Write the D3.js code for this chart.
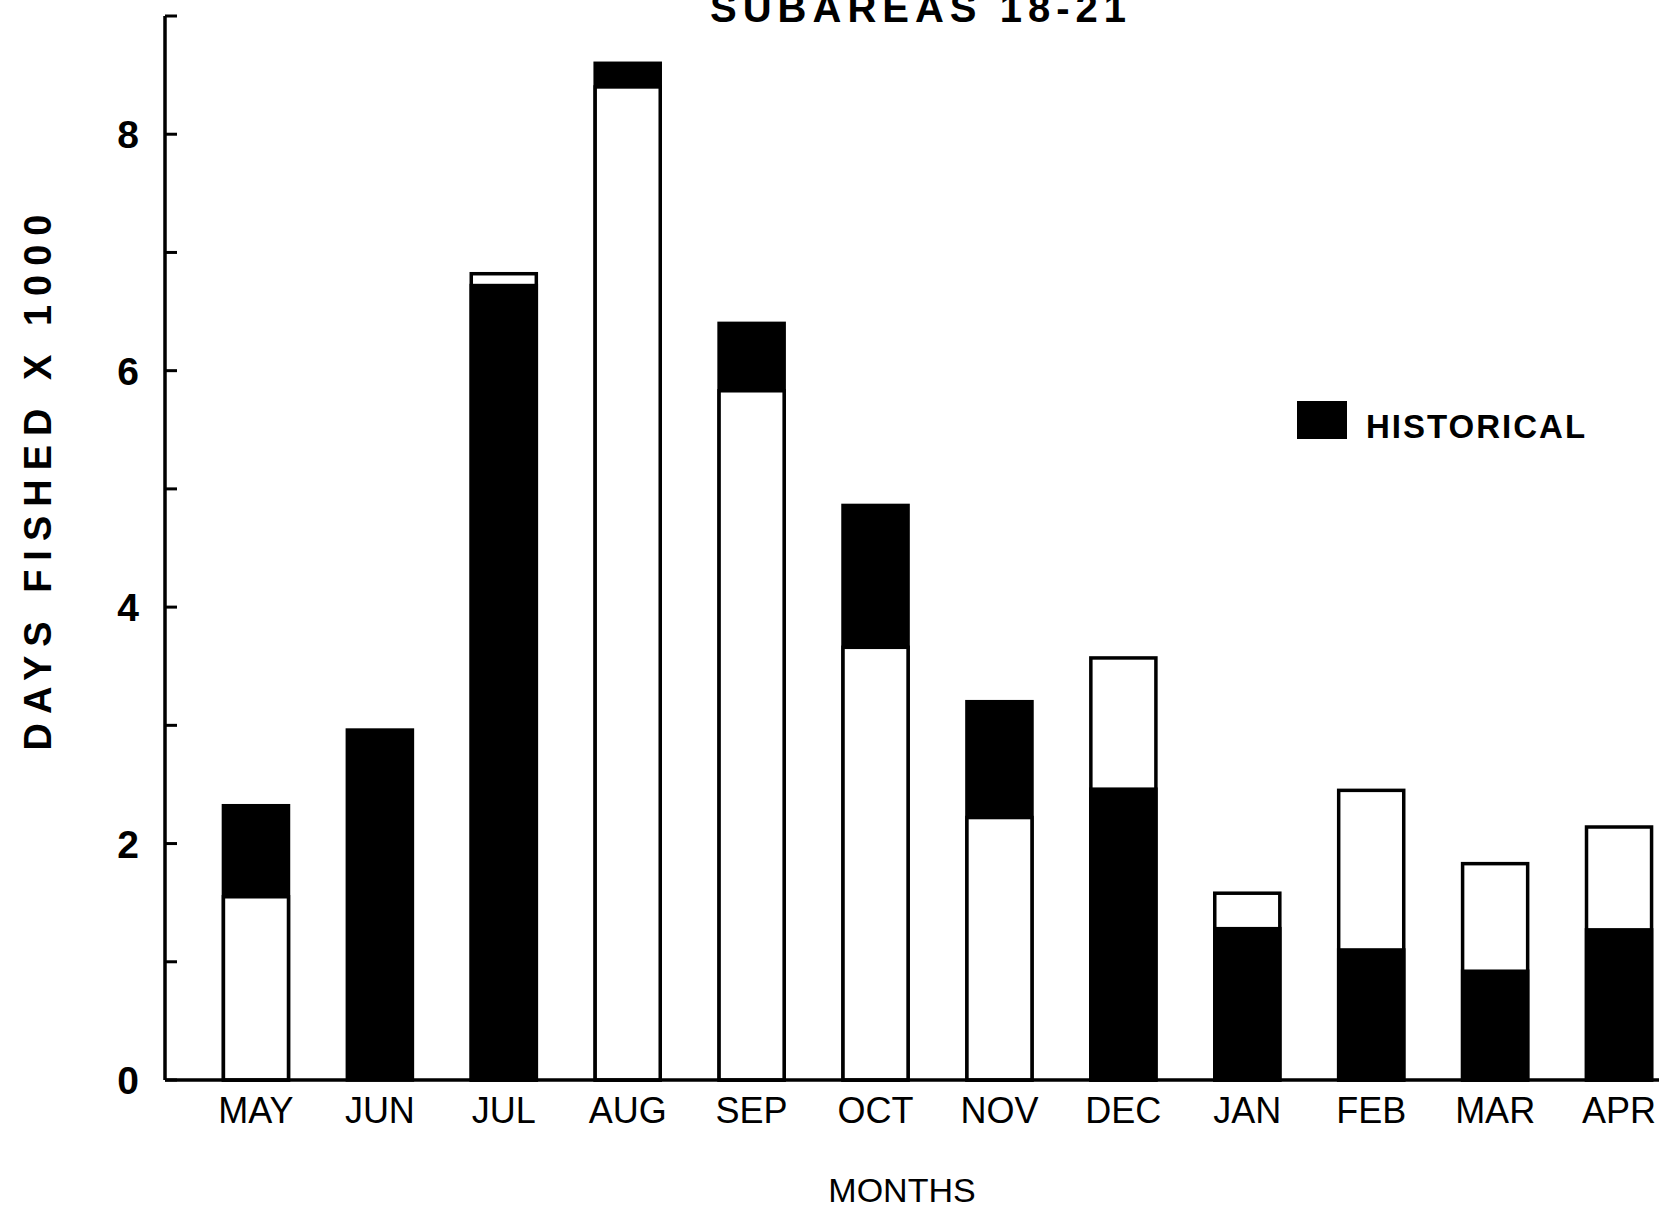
<!DOCTYPE html>
<html>
<head>
<meta charset="utf-8">
<script src="https://cdnjs.cloudflare.com/ajax/libs/d3/7.8.5/d3.min.js"></script>
<style>
    body { margin: 0; background: white; }
    svg { display: block; }
</style>
</head>
<body>
<div id="chart"></div>
<script>
// 1. Data
var months = ["MAY", "JUN", "JUL", "AUG", "SEP", "OCT", "NOV", "DEC", "JAN", "FEB", "MAR", "APR"];
var current = [1.55, 0, 6.82, 8.40, 5.83, 3.66, 2.22, 3.57, 1.58, 2.45, 1.83, 2.14];
var historical = [2.32, 2.96, 6.72, 8.6, 6.40, 4.86, 3.2, 2.46, 1.28, 1.1, 0.92, 1.27];
var yTicks = [0, 1, 2, 3, 4, 5, 6, 7, 8, 9];
var yLabels = [0, 2, 4, 6, 8];

// 2. Svg and scales
var width = 1659, height = 1210;

var svg = d3.select("#chart")
    .append("svg")
    .attr("width", width)
    .attr("height", height)

var x = d3.scaleBand()
    .domain(months)
    .range([194, 1681])
    .paddingInner(0.475)
    .paddingOuter(0.2375)

var y = d3.scaleLinear()
    .domain([0, 9])
    .range([1080, 16])

var axisX = 165;

// 3. Bars - taller one behind, shorter one in front
var rows = months.map(function (m, i) {
    var list = [];
    if (current[i] > 0) list.push({ month: m, value: current[i], kind: "current" });
    list.push({ month: m, value: historical[i], kind: "historical" });
    list.sort(function (a, b) { return b.value - a.value });
    return list;
});

svg.selectAll("g.month")
    .data(rows)
    .enter()
    .append("g")
    .attr("class", "month")
    .selectAll("rect")
    .data(function (d) { return d })
    .enter()
    .append("rect")
    .attr("x", function (d) { return x(d.month) })
    .attr("y", function (d) { return y(d.value) })
    .attr("width", x.bandwidth())
    .attr("height", function (d) { return y(0) - y(d.value) })
    .attr("fill", function (d) { return d.kind == "historical" ? "black" : "white" })
    .attr("stroke", "black")
    .attr("stroke-width", 3.5)

// 4. Axes
svg.append("line")
    .attr("x1", axisX).attr("x2", width)
    .attr("y1", y(0)).attr("y2", y(0))
    .attr("stroke", "black").attr("stroke-width", 3.5)

svg.append("line")
    .attr("x1", axisX).attr("x2", axisX)
    .attr("y1", y(0)).attr("y2", y(9))
    .attr("stroke", "black").attr("stroke-width", 3.5)

svg.selectAll("line.tick")
    .data(yTicks)
    .enter()
    .append("line")
    .attr("class", "tick")
    .attr("x1", axisX).attr("x2", axisX + 12)
    .attr("y1", function (d) { return y(d) })
    .attr("y2", function (d) { return y(d) })
    .attr("stroke", "black").attr("stroke-width", 3)

svg.selectAll("text.ylab")
    .data(yLabels)
    .enter()
    .append("text")
    .attr("class", "ylab")
    .attr("x", 139)
    .attr("y", function (d) { return y(d) + 14 })
    .attr("text-anchor", "end")
    .style("font-family", "Liberation Sans, Arial, sans-serif")
    .style("font-weight", "bold")
    .style("font-size", "39px")
    .text(function (d) { return d })

svg.selectAll("text.xlab")
    .data(months)
    .enter()
    .append("text")
    .attr("class", "xlab")
    .attr("x", function (d) { return x(d) + x.bandwidth() / 2 })
    .attr("y", 1123)
    .attr("text-anchor", "middle")
    .style("font-family", "Liberation Sans, Arial, sans-serif")
    .style("font-size", "36px")
    .text(function (d) { return d })

// 5. Titles and legend
svg.append("text")
    .attr("x", 921).attr("y", 22)
    .attr("text-anchor", "middle")
    .style("font-family", "Liberation Sans, Arial, sans-serif")
    .style("font-weight", "bold")
    .style("font-size", "40px")
    .style("letter-spacing", "6px")
    .text("SUBAREAS 18-21")

svg.append("text")
    .attr("transform", "translate(51,478) rotate(-90)")
    .attr("text-anchor", "middle")
    .style("font-family", "Liberation Sans, Arial, sans-serif")
    .style("font-weight", "bold")
    .style("font-size", "38px")
    .style("letter-spacing", "9px")
    .text("DAYS FISHED X 1000")

svg.append("text")
    .attr("x", 902).attr("y", 1202)
    .attr("text-anchor", "middle")
    .style("font-family", "Liberation Sans, Arial, sans-serif")
    .style("font-size", "34px")
    .text("MONTHS")

svg.append("rect")
    .attr("x", 1297).attr("y", 401)
    .attr("width", 50).attr("height", 38)
    .attr("fill", "black")

svg.append("text")
    .attr("x", 1366).attr("y", 438)
    .style("font-family", "Liberation Sans, Arial, sans-serif")
    .style("font-weight", "bold")
    .style("font-size", "33px")
    .style("letter-spacing", "2px")
    .text("HISTORICAL")
</script>
</body>
</html>
